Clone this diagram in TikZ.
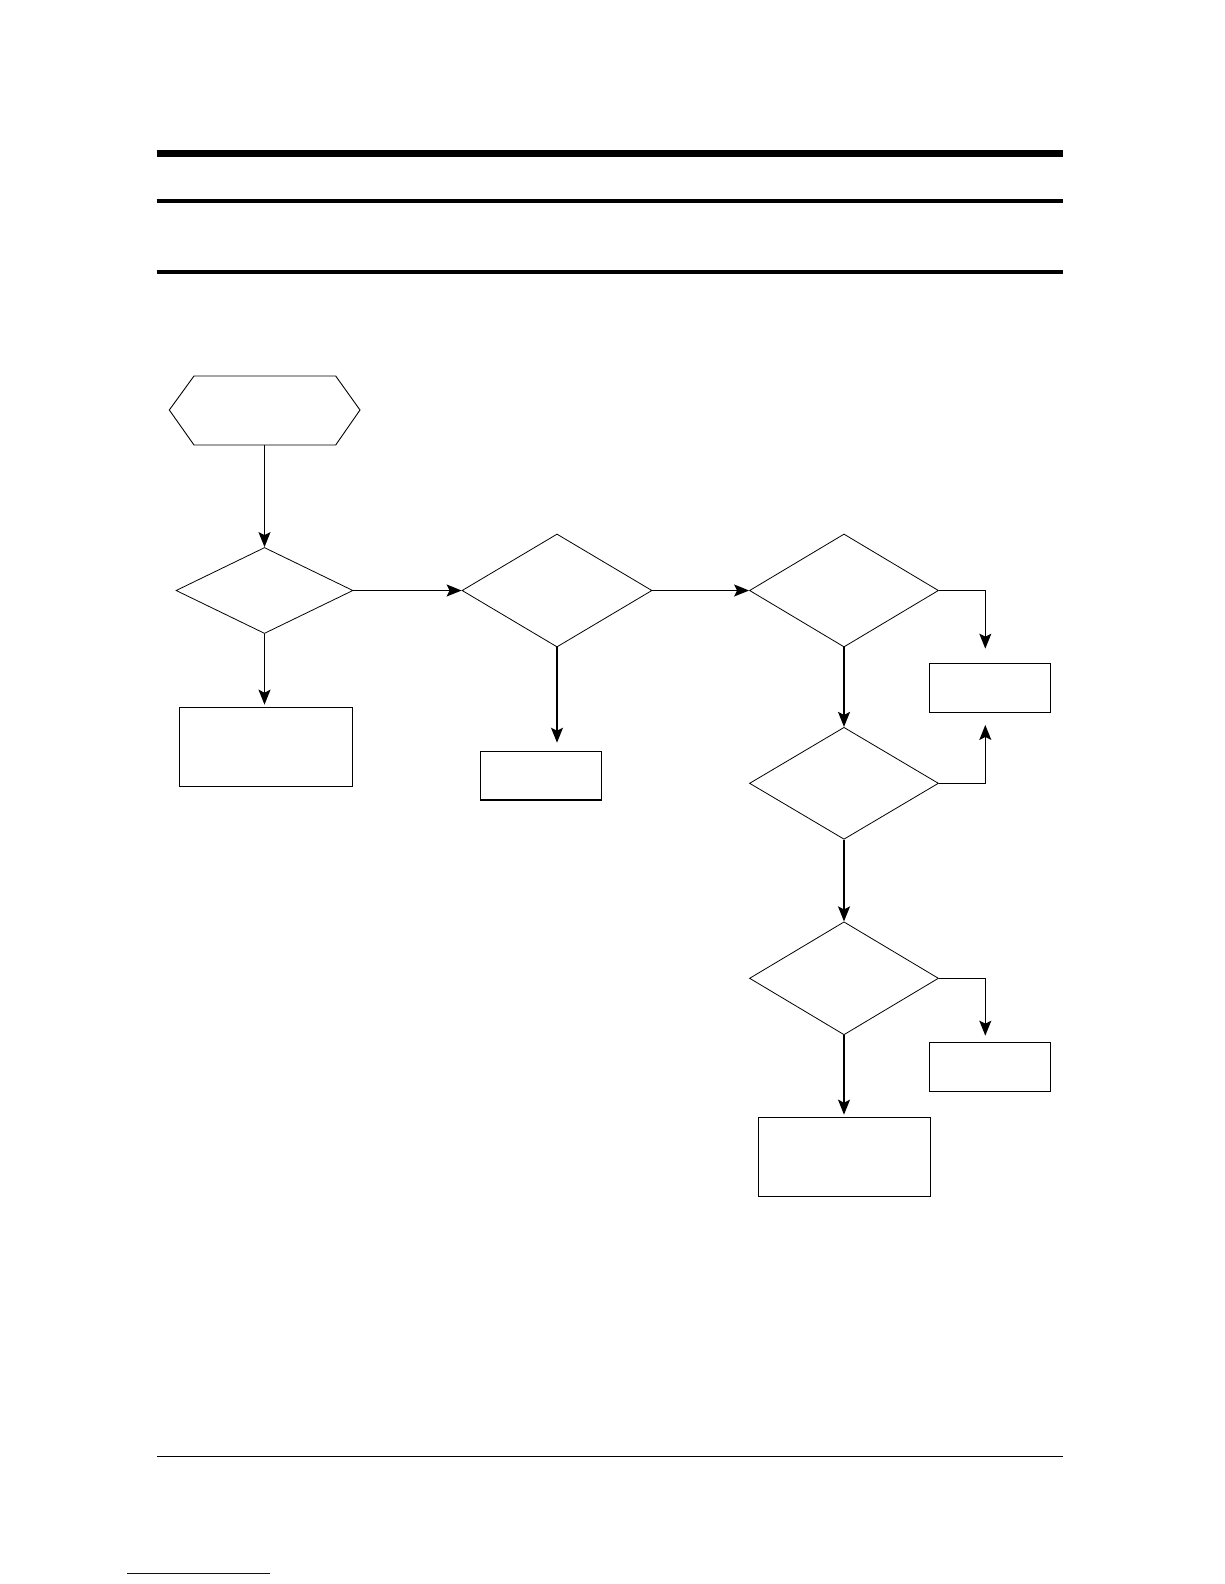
\documentclass[tikz,border=0pt]{standalone}
\usetikzlibrary{shapes.geometric,arrows.meta}
\definecolor{linkblue}{RGB}{0,0,150}
\begin{document}
\begin{tikzpicture}[x=1pt,y=-1pt,
  decision/.style={draw, shape=diamond, inner sep=0pt, line width=0.8pt},
  boxnode/.style={draw, rectangle, inner sep=0pt, line width=1.3pt},
  flow/.style={line width=1.3pt, -{Stealth[length=15pt,width=12pt,inset=3pt]}},
  rule/.style={line cap=butt}
]
\useasboundingbox (0,0) rectangle (1224,1584);
% header rules
\draw[rule, line width=6.7pt] (156.5,153.5) coordinate (r1a) -- (1063,153.5) coordinate (r1b);
\draw[rule, line width=4pt] (156.5,201) coordinate (r2a) -- (1063,201) coordinate (r2b);
\draw[rule, line width=4pt] (156.5,271.5) coordinate (r3a) -- (1063,271.5) coordinate (r3b);
% footer rule
\draw[rule, line width=1.3pt] (157,1456.5) coordinate (f1a) -- (1063,1456.5) coordinate (f1b);
\draw[rule, line width=1.5pt, linkblue] (127,1573.5) coordinate (f2a) -- (270,1573.5) coordinate (f2b);
% start hexagon
\draw[line width=0.9pt] (169.3,410) -- (194,376) -- (335.7,376) -- (360,410) -- (335.7,445) -- (194,445) -- cycle;
\coordinate (start) at (264.5,445);
% decisions
\node[decision, minimum width=177pt, minimum height=86pt] (d1) at (264.5,590.5) {};
\node[decision, minimum width=190pt, minimum height=113pt] (d2) at (557,590.5) {};
\node[decision, minimum width=189pt, minimum height=113pt] (d3) at (844,590.5) {};
\node[decision, minimum width=189pt, minimum height=112pt] (d4) at (844,783.3) {};
\node[decision, minimum width=189pt, minimum height=113pt] (d5) at (844,978.3) {};
% boxes
\node[boxnode, minimum width=173.4pt, minimum height=79pt] (b1) at (266,746.8) {};
\node[boxnode, minimum width=121.4pt, minimum height=48.7pt] (b2) at (541,775.7) {};
\node[boxnode, minimum width=121.4pt, minimum height=49pt] (b3) at (990,687.8) {};
\node[boxnode, minimum width=121.4pt, minimum height=49pt] (b4) at (990,1066.8) {};
\node[boxnode, minimum width=172.4pt, minimum height=79pt] (b5) at (844.5,1156.8) {};
% connectors
\draw[flow] (start) -- (d1.north);
\draw[flow, shorten >=2pt] (d1.south) -- (d1.south |- b1.north);
\draw[flow] (d1.east) -- (d2.west);
\draw[flow, shorten >=8pt] (d2.south) -- (d2.south |- b2.north);
\draw[flow] (d2.east) -- (d3.west);
\draw[flow, shorten >=14pt] (d3.east) -| ([xshift=-4.7pt]b3.north);
\draw[flow, shorten >=12pt] (d4.east) -| ([xshift=-4.7pt]b3.south);
\draw[flow] (d3.south) -- (d4.north);
\draw[flow] (d4.south) -- (d5.north);
\draw[flow, shorten >=6pt] (d5.east) -| ([xshift=-4.7pt]b4.north);
\draw[flow, shorten >=2pt] (d5.south) -- (d5.south |- b5.north);
\end{tikzpicture}
\end{document}
